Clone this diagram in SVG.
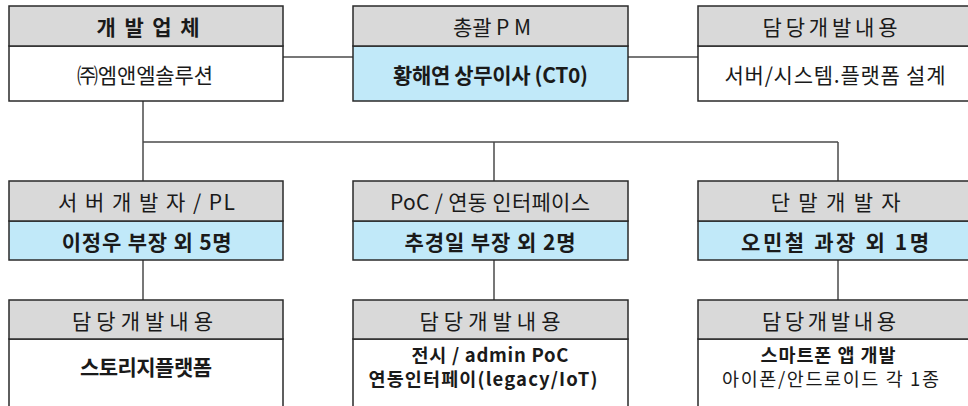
<svg xmlns="http://www.w3.org/2000/svg" width="968" height="406" viewBox="0 0 968 406">
<style>
.hd{fill:#d9d9d9;stroke:#2a2a2a;stroke-width:1.5}
.bl{fill:#c1e9f9;stroke:#2a2a2a;stroke-width:1.5}
.wh{fill:#ffffff;stroke:#2a2a2a;stroke-width:1.5}
.cn line{stroke:#4a4a4a;stroke-width:1.5}
text{font-family:"Noto Sans CJK KR","Noto Sans",sans-serif;font-size:21px;fill:#1a1a1a;text-anchor:middle;dominant-baseline:central}
.b{font-weight:bold}
.n{font-weight:normal}
.s{font-size:18.5px}
</style>
<rect width="968" height="406" fill="#ffffff"/>
<g class="cn" id="connectors">
<line x1="283" y1="57" x2="353" y2="57"/>
<line x1="628" y1="57" x2="698" y2="57"/>
<line x1="143" y1="101" x2="143" y2="181"/>
<line x1="143" y1="142" x2="838" y2="142"/>
<line x1="494" y1="142" x2="494" y2="181"/>
<line x1="838" y1="142" x2="838" y2="181"/>
<line x1="143" y1="260" x2="143" y2="300"/>
<line x1="494" y1="260" x2="494" y2="300"/>
<line x1="838" y1="260" x2="838" y2="300"/>
</g>
<g id="company">
<rect class="wh" x="9" y="46" width="274" height="55"/>
<rect class="hd" x="9" y="6" width="274" height="40"/>
<text class="b" x="148" y="26" textLength="103" lengthAdjust="spacing">개 발 업 체</text>
<text x="145" y="73.5" textLength="136" lengthAdjust="spacing">㈜엠앤엘솔루션</text>
</g>
<g id="pm">
<rect class="bl" x="353" y="46" width="275" height="55"/>
<rect class="hd" x="353" y="6" width="275" height="40"/>
<text x="492" y="26" textLength="78" lengthAdjust="spacing">총괄 P M</text>
<text class="b" x="490.5" y="73.5" textLength="195" lengthAdjust="spacing">황해연 상무이사 (CT0)</text>
</g>
<g id="pm-duty">
<rect class="wh" x="698" y="46" width="275" height="55"/>
<rect class="hd" x="698" y="6" width="275" height="40"/>
<text x="830" y="26" textLength="135" lengthAdjust="spacing">담당개발내용</text>
<text x="835" y="73.5" textLength="221" lengthAdjust="spacing">서버/시스템.플랫폼 설계</text>
</g>
<g id="server-dev">
<rect class="bl" x="9" y="221" width="274" height="39"/>
<rect class="hd" x="9" y="181" width="274" height="40"/>
<text x="146.5" y="201" textLength="177" lengthAdjust="spacing">서 버 개 발 자 / PL</text>
<text class="b" x="146.7" y="240.5" textLength="170" lengthAdjust="spacing">이정우 부장 외 5명</text>
</g>
<g id="poc-dev">
<rect class="bl" x="353" y="221" width="275" height="39"/>
<rect class="hd" x="353" y="181" width="275" height="40"/>
<text x="490" y="201" textLength="200" lengthAdjust="spacing">PoC / 연동 인터페이스</text>
<text class="b" x="490" y="240.5" textLength="171" lengthAdjust="spacing">추경일 부장 외 2명</text>
</g>
<g id="terminal-dev">
<rect class="bl" x="698" y="221" width="275" height="39"/>
<rect class="hd" x="698" y="181" width="275" height="40"/>
<text x="835.7" y="201" textLength="130" lengthAdjust="spacing">단 말 개 발 자</text>
<text class="b" x="835" y="240.5" textLength="188" lengthAdjust="spacing">오민철 과장 외 1명</text>
</g>
<g id="server-duty">
<rect class="wh" x="9" y="339" width="274" height="80"/>
<rect class="hd" x="9" y="300" width="274" height="39"/>
<text x="142.5" y="320" textLength="141" lengthAdjust="spacing">담당개발내용</text>
<text class="b" x="146" y="366" textLength="132" lengthAdjust="spacing">스토리지플랫폼</text>
</g>
<g id="poc-duty">
<rect class="wh" x="353" y="339" width="275" height="80"/>
<rect class="hd" x="353" y="300" width="275" height="39"/>
<text x="490" y="320" textLength="141" lengthAdjust="spacing">담당개발내용</text>
<text class="b s"><tspan x="490" y="354" textLength="157" lengthAdjust="spacing">전시 / admin PoC</tspan><tspan x="483" y="377.5" textLength="229" lengthAdjust="spacing">연동인터페이(legacy/IoT)</tspan></text>
</g>
<g id="terminal-duty">
<rect class="wh" x="698" y="339" width="275" height="80"/>
<rect class="hd" x="698" y="300" width="275" height="39"/>
<text x="829" y="320" textLength="134" lengthAdjust="spacing">담당개발내용</text>
<text class="b s"><tspan x="828" y="354" textLength="135" lengthAdjust="spacing">스마트폰 앱 개발</tspan><tspan class="n" x="830.5" y="377.5" textLength="217" lengthAdjust="spacing">아이폰/안드로이드 각 1종</tspan></text>
</g>
</svg>
